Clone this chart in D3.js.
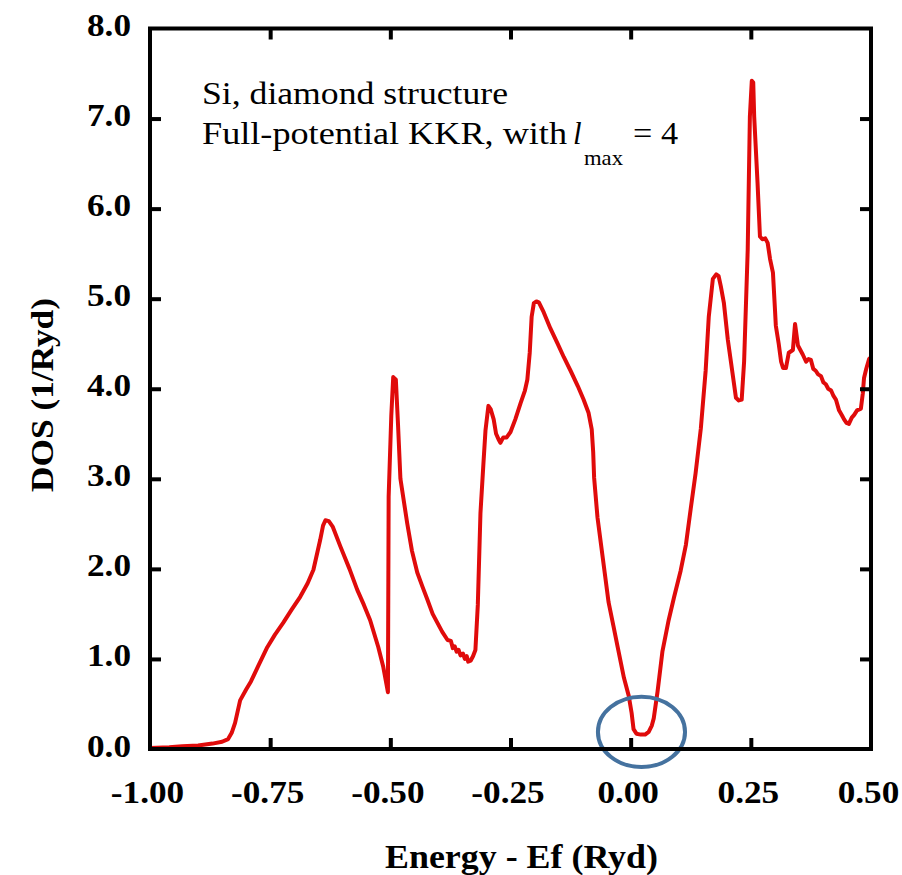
<!DOCTYPE html>
<html>
<head>
<meta charset="utf-8">
<script src="https://cdn.jsdelivr.net/npm/d3@7"></script>
<style>
  html, body { margin: 0; padding: 0; background: #fff; }
  svg { display: block; }
  text { font-family: "Liberation Serif", "Times New Roman", serif; fill: #000; }
</style>
</head>
<body>
<svg id="chart" width="902" height="875"></svg>
<script>
// ---- data ----
const energy = [
  -1.000, -0.960, -0.933, -0.900, -0.870, -0.850, -0.8375, -0.830, -0.823, -0.8125,
  -0.800, -0.790, -0.775, -0.756, -0.740, -0.723, -0.705, -0.6875, -0.672, -0.660,
  -0.646, -0.640, -0.635, -0.628, -0.620, -0.604, -0.585, -0.569, -0.555, -0.542,
  -0.525, -0.515, -0.505, -0.5035, -0.498, -0.494, -0.4885, -0.484, -0.479, -0.465,
  -0.455, -0.444, -0.433, -0.423, -0.412, -0.402, -0.392, -0.381, -0.374, -0.370,
  -0.366, -0.362, -0.358, -0.354, -0.349, -0.345, -0.341, -0.338, -0.333, -0.328,
  -0.323, -0.318, -0.3125, -0.306, -0.302, -0.296, -0.291, -0.285, -0.280, -0.275,
  -0.271, -0.265, -0.258, -0.250, -0.240, -0.229, -0.220, -0.215, -0.210, -0.206,
  -0.2014, -0.196, -0.191, -0.181, -0.167, -0.152, -0.139, -0.125, -0.110, -0.098,
  -0.0875, -0.081, -0.078, -0.076, -0.069, -0.058, -0.046, -0.036, -0.027, -0.014,
  -0.004, 0.002, 0.006, 0.012, 0.021, 0.030, 0.0375, 0.044, 0.048, 0.056,
  0.066, 0.079, 0.090, 0.104, 0.115, 0.125, 0.135, 0.146, 0.156, 0.1625,
  0.171, 0.178, 0.183, 0.1875, 0.194, 0.202, 0.2125, 0.219, 0.225, 0.231,
  0.236, 0.2435, 0.248, 0.252, 0.255, 0.257, 0.264, 0.269, 0.274, 0.280,
  0.285, 0.290, 0.296, 0.300, 0.302, 0.308, 0.313, 0.317, 0.323, 0.329,
  0.3375, 0.342, 0.348, 0.353, 0.358, 0.365, 0.370, 0.375, 0.380, 0.385,
  0.390, 0.396, 0.401, 0.406, 0.411, 0.417, 0.422, 0.427, 0.4335, 0.440,
  0.444, 0.449, 0.454, 0.460, 0.465, 0.471, 0.479, 0.483, 0.4855, 0.490,
  0.496, 0.500
];
const dos = [
  0.01, 0.02, 0.03, 0.04, 0.06, 0.08, 0.11, 0.18, 0.29, 0.54,
  0.66, 0.75, 0.92, 1.13, 1.27, 1.40, 1.55, 1.69, 1.84, 1.99,
  2.32, 2.48, 2.54, 2.53, 2.47, 2.25, 2.00, 1.77, 1.60, 1.43,
  1.13, 0.92, 0.63, 2.80, 3.70, 4.13, 4.10, 3.60, 3.00, 2.51,
  2.20, 1.96, 1.80, 1.66, 1.50, 1.40, 1.30, 1.21, 1.20, 1.12,
  1.14, 1.08, 1.10, 1.04, 1.06, 1.00, 1.03, 0.97, 0.98, 1.03,
  1.10, 1.60, 2.62, 3.20, 3.54, 3.81, 3.77, 3.66, 3.50, 3.44,
  3.40, 3.46, 3.46, 3.52, 3.66, 3.84, 3.98, 4.10, 4.40, 4.80,
  4.95, 4.97, 4.96, 4.85, 4.67, 4.50, 4.35, 4.20, 4.03, 3.88,
  3.73, 3.55, 3.30, 3.01, 2.57, 2.12, 1.63, 1.37, 1.13, 0.79,
  0.59, 0.40, 0.22, 0.17, 0.16, 0.16, 0.19, 0.26, 0.34, 0.64,
  1.08, 1.43, 1.68, 1.98, 2.27, 2.67, 3.06, 3.56, 4.20, 4.80,
  5.22, 5.27, 5.25, 5.14, 4.95, 4.55, 4.15, 3.90, 3.87, 3.88,
  4.30, 5.54, 7.02, 7.42, 7.40, 7.02, 6.28, 5.69, 5.66, 5.67,
  5.62, 5.44, 5.29, 4.90, 4.70, 4.50, 4.30, 4.23, 4.23, 4.40,
  4.43, 4.72, 4.48, 4.43, 4.38, 4.30, 4.33, 4.32, 4.22, 4.20,
  4.16, 4.14, 4.07, 4.05, 4.00, 3.98, 3.92, 3.88, 3.76, 3.70,
  3.66, 3.62, 3.61, 3.68, 3.71, 3.76, 3.78, 3.95, 4.12, 4.22,
  4.33, 4.35
];
const xTicks = [-1.0, -0.75, -0.5, -0.25, 0.0, 0.25, 0.5];
const xTickLabels = ["-1.00", "-0.75", "-0.50", "-0.25", "0.00", "0.25", "0.50"];
const yTicks = [0, 1, 2, 3, 4, 5, 6, 7, 8];
const yTickLabels = ["0.0", "1.0", "2.0", "3.0", "4.0", "5.0", "6.0", "7.0", "8.0"];
const xTitle = "Energy - Ef (Ryd)";
const yTitle = "DOS (1/Ryd)";
const noteLine1 = "Si, diamond structure";
const noteLine2 = "Full-potential KKR, with";
// highlighted region around the gap (energy, dos centre and half-widths)
const gapMark = { e: 0.0225, d: 0.19, de: 0.0906, dd: 0.39 };

// ---- chart ----
const svg = d3.select("#chart");
const L = 150, R = 871, T = 28.5, B = 749;
const x = d3.scaleLinear().domain([-1, 0.5]).range([L, R]);
const y = d3.scaleLinear().domain([0, 8]).range([B, T]);
const stretch = 1.1;

// curve
const pts = energy.map((e, i) => [e, dos[i]]);
svg.append("path")
  .datum(pts)
  .attr("fill", "none")
  .attr("stroke", "#e00b0b")
  .attr("stroke-width", 4)
  .attr("stroke-linejoin", "round")
  .attr("d", d3.line().x(d => x(d[0])).y(d => y(d[1])));

// gap ellipse
svg.append("ellipse")
  .attr("cx", x(gapMark.e))
  .attr("cy", y(gapMark.d))
  .attr("rx", x(gapMark.e + gapMark.de) - x(gapMark.e))
  .attr("ry", y(0) - y(gapMark.dd))
  .attr("fill", "none")
  .attr("stroke", "#45729f")
  .attr("stroke-width", 4);

// axes with inward ticks
const tickLen = 11;
const gB = svg.append("g").attr("transform", `translate(0,${B})`)
  .call(d3.axisBottom(x).tickValues(xTicks).tickFormat((d, i) => xTickLabels[i])
    .tickSize(-tickLen).tickPadding(31));
const gT = svg.append("g").attr("transform", `translate(0,${T})`)
  .call(d3.axisTop(x).tickValues(xTicks).tickFormat("").tickSize(-tickLen));
const gL = svg.append("g").attr("transform", `translate(${L},0)`)
  .call(d3.axisLeft(y).tickValues(yTicks).tickFormat((d, i) => yTickLabels[i])
    .tickSize(-tickLen).tickPadding(19));
const gR = svg.append("g").attr("transform", `translate(${R},0)`)
  .call(d3.axisRight(y).tickValues(yTicks).tickFormat("").tickSize(-tickLen));

[gB, gT, gL, gR].forEach(g => {
  g.select(".domain").remove();
  g.selectAll(".tick line").attr("stroke", "#000").attr("stroke-width", 4);
});
gB.selectAll(".tick text")
  .attr("font-size", 32).attr("font-weight", "bold")
  .style("font-family", "'Liberation Serif', 'Times New Roman', serif")
  .attr("x", -3 / stretch)
  .attr("transform", `scale(${stretch},1)`);
gL.selectAll(".tick text")
  .attr("font-size", 32).attr("font-weight", "bold")
  .style("font-family", "'Liberation Serif', 'Times New Roman', serif")
  .attr("x", -19 / stretch)
  .attr("dy", "0.22em")
  .attr("transform", `scale(${stretch},1)`);
// hide ticks that coincide with frame corners
gB.selectAll(".tick line").filter(d => d === -1 || d === 0.5).remove();
gT.selectAll(".tick line").filter(d => d === -1 || d === 0.5).remove();
gL.selectAll(".tick line").filter(d => d === 0 || d === 8).remove();
gR.selectAll(".tick line").filter(d => d === 0 || d === 8).remove();

// frame
svg.append("rect")
  .attr("x", L).attr("y", T).attr("width", R - L).attr("height", B - T)
  .attr("fill", "none").attr("stroke", "#000").attr("stroke-width", 4);

// axis titles
svg.append("text")
  .attr("x", 385).attr("y", 868)
  .attr("font-size", 33).attr("font-weight", "bold")
  .attr("textLength", 273).attr("lengthAdjust", "spacingAndGlyphs")
  .text(xTitle);
svg.append("text")
  .attr("transform", "translate(53,492) rotate(-90)")
  .attr("x", 0).attr("y", 0)
  .attr("font-size", 32).attr("font-weight", "bold")
  .attr("textLength", 194).attr("lengthAdjust", "spacingAndGlyphs")
  .text(yTitle);

// annotation
svg.append("text")
  .attr("x", 202).attr("y", 104)
  .attr("font-size", 31)
  .attr("textLength", 306).attr("lengthAdjust", "spacingAndGlyphs")
  .text(noteLine1);
svg.append("text")
  .attr("x", 202).attr("y", 144)
  .attr("font-size", 31)
  .attr("textLength", 365).attr("lengthAdjust", "spacingAndGlyphs")
  .text(noteLine2);
svg.append("text")
  .attr("x", 573).attr("y", 144)
  .attr("font-size", 31).attr("font-style", "italic")
  .text("l");
svg.append("text")
  .attr("x", 584).attr("y", 165)
  .attr("font-size", 21)
  .attr("textLength", 39).attr("lengthAdjust", "spacingAndGlyphs")
  .text("max");
svg.append("text")
  .attr("x", 633).attr("y", 144)
  .attr("font-size", 31)
  .attr("textLength", 45).attr("lengthAdjust", "spacingAndGlyphs")
  .text("= 4");
</script>
</body>
</html>
